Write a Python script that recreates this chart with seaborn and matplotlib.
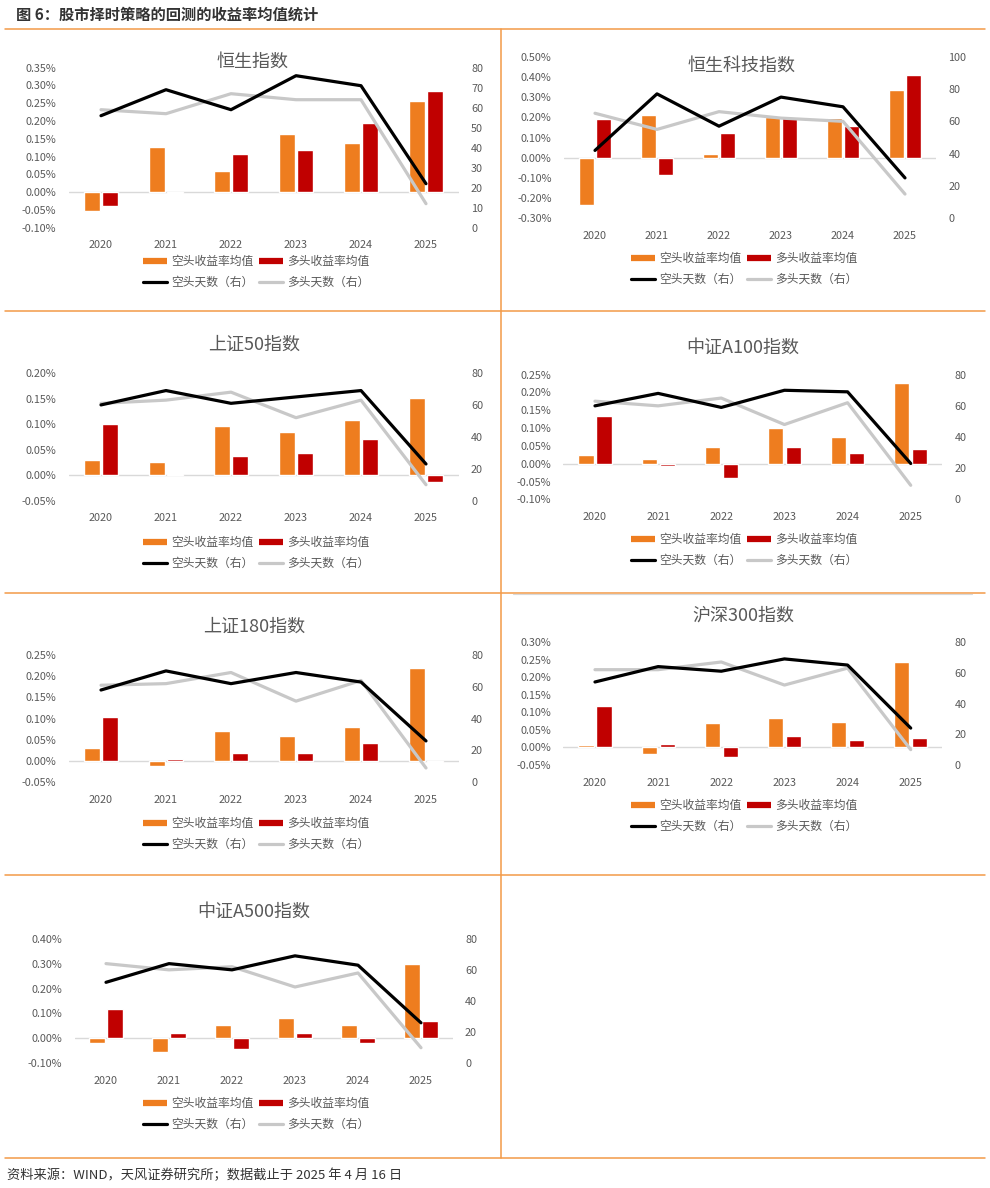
import numpy as np
import pandas as pd
import matplotlib
matplotlib.use('Agg')
import matplotlib.pyplot as plt
from matplotlib.lines import Line2D
from matplotlib.ticker import FuncFormatter
import seaborn as sns

sns.set_theme(style='white')
plt.rcParams['font.family'] = ['Noto Sans CJK SC', 'DejaVu Sans']

# ---- data ----
years = ['2020', '2021', '2022', '2023', '2024', '2025']
series_names = ['空头收益率均值', '多头收益率均值', '空头天数（右）', '多头天数（右）']

hsi_short_ret = [-0.054, 0.128, 0.059, 0.163, 0.139, 0.257]
hsi_long_ret = [-0.038, -0.003, 0.107, 0.118, 0.195, 0.285]
hsi_short_days = [56, 69, 59, 76, 71, 22]
hsi_long_days = [59, 57, 67, 64, 64, 12]

hstech_short_ret = [-0.234, 0.211, 0.018, 0.200, 0.195, 0.333]
hstech_long_ret = [0.193, -0.086, 0.120, 0.201, 0.158, 0.408]
hstech_short_days = [42, 77, 57, 75, 69, 25]
hstech_long_days = [65, 55, 66, 62, 60, 15]

sz50_short_ret = [0.029, 0.026, 0.097, 0.084, 0.108, 0.152]
sz50_long_ret = [0.100, 0.003, 0.038, 0.044, 0.071, -0.014]
sz50_short_days = [60, 69, 61, 65, 69, 23]
sz50_long_days = [61, 63, 68, 52, 63, 10]

a100_short_ret = [0.025, 0.014, 0.048, 0.099, 0.075, 0.228]
a100_long_ret = [0.134, -0.006, -0.040, 0.046, 0.029, 0.042]
a100_short_days = [60, 68, 59, 70, 69, 23]
a100_long_days = [63, 60, 65, 48, 62, 9]

sz180_short_ret = [0.030, -0.011, 0.072, 0.060, 0.080, 0.219]
sz180_long_ret = [0.105, 0.006, 0.020, 0.020, 0.043, -0.001]
sz180_short_days = [58, 70, 62, 69, 63, 26]
sz180_long_days = [61, 62, 69, 51, 64, 9]

hs300_short_ret = [0.007, -0.019, 0.069, 0.085, 0.071, 0.243]
hs300_long_ret = [0.118, 0.010, -0.027, 0.032, 0.022, 0.028]
hs300_short_days = [54, 64, 61, 69, 65, 24]
hs300_long_days = [62, 62, 67, 52, 63, 10]

a500_short_ret = [-0.020, -0.053, 0.053, 0.083, 0.053, 0.297]
a500_long_ret = [0.118, 0.021, -0.043, 0.021, -0.017, 0.071]
a500_short_days = [52, 64, 60, 69, 63, 26]
a500_long_days = [64, 60, 62, 49, 58, 10]

panels = [
    dict(title='恒生指数', sr=hsi_short_ret, lr=hsi_long_ret, sd=hsi_short_days, ld=hsi_long_days,
         yl=(-0.10, 0.35, 0.05), yr=(0, 80, 10)),
    dict(title='恒生科技指数', sr=hstech_short_ret, lr=hstech_long_ret, sd=hstech_short_days, ld=hstech_long_days,
         yl=(-0.30, 0.50, 0.10), yr=(0, 100, 20)),
    dict(title='上证50指数', sr=sz50_short_ret, lr=sz50_long_ret, sd=sz50_short_days, ld=sz50_long_days,
         yl=(-0.05, 0.20, 0.05), yr=(0, 80, 20)),
    dict(title='中证A100指数', sr=a100_short_ret, lr=a100_long_ret, sd=a100_short_days, ld=a100_long_days,
         yl=(-0.10, 0.25, 0.05), yr=(0, 80, 20)),
    dict(title='上证180指数', sr=sz180_short_ret, lr=sz180_long_ret, sd=sz180_short_days, ld=sz180_long_days,
         yl=(-0.05, 0.25, 0.05), yr=(0, 80, 20)),
    dict(title='沪深300指数', sr=hs300_short_ret, lr=hs300_long_ret, sd=hs300_short_days, ld=hs300_long_days,
         yl=(-0.05, 0.30, 0.05), yr=(0, 80, 20)),
    dict(title='中证A500指数', sr=a500_short_ret, lr=a500_long_ret, sd=a500_short_days, ld=a500_long_days,
         yl=(-0.10, 0.40, 0.10), yr=(0, 80, 20)),
]

# ---- layout in pixels: plot box (x0, ytop, x1, ybottom), title center, legend center ----
layout = [
    dict(plot=(68.5, 67.7, 458.5, 227.7), title=(253, 62), legend=(256, 272)),
    dict(plot=(564, 56.7, 936, 218.3), title=(742, 66), legend=(744, 269)),
    dict(plot=(68.5, 373, 458.5, 500.7), title=(254, 345), legend=(256, 553)),
    dict(plot=(563.4, 374.7, 942.3, 499.3), title=(743, 348), legend=(744, 550)),
    dict(plot=(68.5, 655, 458.5, 782.3), title=(254, 627), legend=(256, 834)),
    dict(plot=(563.4, 642, 942.3, 765), title=(743, 616), legend=(744, 816)),
    dict(plot=(74.5, 938.7, 452.5, 1063.3), title=(254, 912), legend=(256, 1114)),
]

ORANGE = '#EE7D1F'
RED = '#C00000'
GRAY = '#C8C8C8'
TXT = '#595959'
RULE = '#F39A48'

W, H = 990, 1188
fig = plt.figure(figsize=(W / 100, H / 100), dpi=100)


def fx(x):
    return x / W


def fy(y):
    return 1 - y / H


def pct(v, _):
    v = round(v, 4)
    if abs(v) < 1e-9:
        v = 0.0
    return f'{v:.2f}%'


for p, lay in zip(panels, layout):
    x0, y0, x1, y1 = lay['plot']
    ax = fig.add_axes([fx(x0), fy(y1), fx(x1) - fx(x0), (y1 - y0) / H])
    df = pd.DataFrame({
        'year': years * 2,
        'series': [series_names[0]] * len(years) + [series_names[1]] * len(years),
        'value': p['sr'] + p['lr'],
    })
    sns.barplot(data=df, x='year', y='value', hue='series', hue_order=series_names[:2],
                palette=[ORANGE, RED], saturation=1, width=0.57, gap=0.16,
                legend=False, ax=ax)
    ax.axhline(0, color='#D9D9D9', lw=1, zorder=0.5)
    lo, hi, st = p['yl']
    ax.set_ylim(lo, hi)
    ax.set_yticks(np.arange(lo, hi + st / 2, st))
    ax.yaxis.set_major_formatter(FuncFormatter(pct))
    ax.set_xlim(-0.5, len(years) - 0.5)
    ax.set_xlabel('')
    ax.set_ylabel('')
    ax.tick_params(axis='both', length=0, labelsize=7.8, labelcolor=TXT)
    ax.tick_params(axis='y', pad=9)
    ax.tick_params(axis='x', pad=9)
    sns.despine(ax=ax, left=True, bottom=True)

    ax2 = ax.twinx()
    pos = np.arange(len(years))
    sns.lineplot(x=pos, y=p['ld'], color=GRAY, lw=2.3, ax=ax2)
    sns.lineplot(x=pos, y=p['sd'], color='black', lw=2.3, ax=ax2)
    rlo, rhi, rst = p['yr']
    ax2.set_ylim(rlo, rhi)
    ax2.set_yticks(np.arange(rlo, rhi + rst / 2, rst))
    ax2.set_xlim(-0.5, len(years) - 0.5)
    ax2.set_ylabel('')
    ax2.tick_params(axis='y', length=0, labelsize=7.8, labelcolor=TXT, pad=9)
    for s in ax2.spines.values():
        s.set_visible(False)
    ax2.grid(False)

    tx, ty = lay['title']
    fig.text(fx(tx), fy(ty), p['title'], ha='center', va='center', fontsize=13, color=TXT)

    handles = [
        Line2D([], [], color=ORANGE, lw=4.5, solid_capstyle='butt'),
        Line2D([], [], color='black', lw=2.3),
        Line2D([], [], color=RED, lw=4.5, solid_capstyle='butt'),
        Line2D([], [], color=GRAY, lw=2.3),
    ]
    labels = [series_names[0], series_names[2], series_names[1], series_names[3]]
    lx, ly = lay['legend']
    fig.legend(handles, labels, loc='center', bbox_to_anchor=(fx(lx), fy(ly)), ncol=2,
               frameon=False, fontsize=8.5, labelcolor=TXT, handlelength=2.0,
               handletextpad=0.35, columnspacing=0.5, labelspacing=0.65)

# ---- frame rules ----
for y in [29, 311, 593, 875, 1158]:
    fig.add_artist(Line2D([fx(5), fx(985)], [fy(y), fy(y)], color=RULE, lw=1.1))
fig.add_artist(Line2D([fx(501), fx(501)], [fy(29), fy(1158)], color=RULE, lw=1.1))
fig.add_artist(Line2D([fx(513), fx(972)], [fy(594), fy(594)], color='#D9D9D9', lw=0.8))

fig.text(fx(16), fy(15), '图 6：股市择时策略的回测的收益率均值统计', ha='left', va='center',
         fontsize=11, fontweight='bold', color='#333333')
fig.text(fx(7), fy(1175), '资料来源：WIND，天风证券研究所；数据截止于 2025 年 4 月 16 日', ha='left',
         va='center', fontsize=9.5, color='#333333')

fig.savefig('out.png', dpi=100)
